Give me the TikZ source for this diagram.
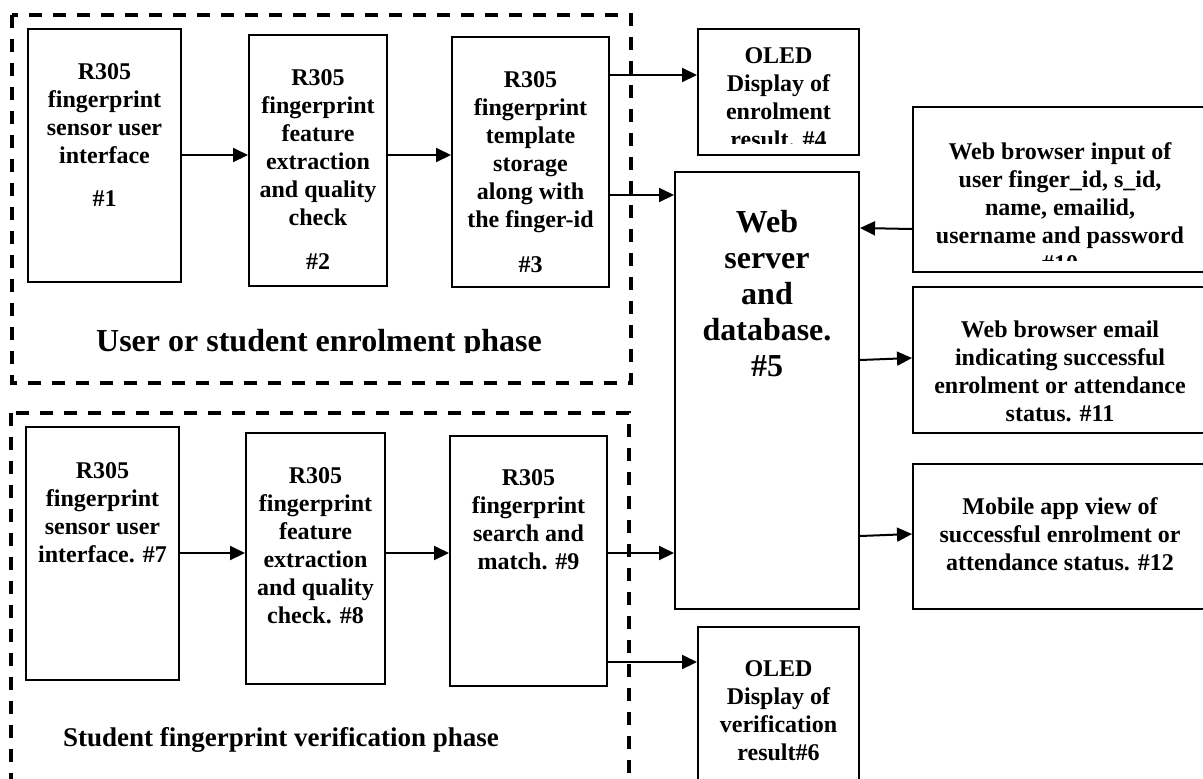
\documentclass[tikz,border=0pt]{standalone}
\usepackage{fontspec}
\setmainfont{Liberation Serif}
\usetikzlibrary{arrows.meta}

\begin{document}
\begin{tikzpicture}[x=0.5pt,y=-0.5pt]
  \tikzstyle{box}=[draw,line width=1pt,inner sep=0pt];
  \tikzstyle{txt}=[align=center,inner sep=0pt,anchor=north,font=\bfseries\fontsize{12}{14}\selectfont];
  \tikzstyle{arr}=[line width=1pt,-{Triangle[length=7.5pt,width=7pt]}];
  \tikzstyle{phase}=[line width=1.6pt,dash pattern=on 6.5pt off 5.5pt];

  \useasboundingbox (0,0) rectangle (1203,778);

  % phase frames
  \draw[phase] (12,15) rectangle (631,383);
  \draw[phase] (11,413) rectangle (629,800);

  % enrolment boxes
  \node[box,minimum width=76.5pt,minimum height=126.5pt] (b1) at (104.5,155.5) {};
  \node[box,minimum width=69pt,minimum height=125.5pt] (b2) at (318,160.5) {};
  \node[box,minimum width=78.5pt,minimum height=125pt] (b3) at (530.5,162) {};
  \node[box,minimum width=80.5pt,minimum height=63pt] (b4) at (778.5,92) {};

  % server and web side
  \node[box,minimum width=92pt,minimum height=218.5pt] (b5) at (767,390.5) {};
  \node[box,minimum width=147pt,minimum height=82.5pt] (b10) at (1060,189.5) {};
  \node[box,minimum width=147pt,minimum height=73pt] (b11) at (1060,360) {};
  \node[box,minimum width=147pt,minimum height=72.5pt] (b12) at (1060,536.5) {};

  % verification boxes
  \node[box,minimum width=76.5pt,minimum height=126.5pt] (b7) at (102.5,553.5) {};
  \node[box,minimum width=69.5pt,minimum height=125.5pt] (b8) at (315.5,558.5) {};
  \node[box,minimum width=78.5pt,minimum height=125pt] (b9) at (528.5,561) {};
  \node[box,minimum width=80.5pt,minimum height=86.5pt] (b6) at (778.5,713.5) {};

  % texts
  \node[txt] (t1) at (104.5,63) {R305\\fingerprint\\sensor user\\interface\\[7.5pt]\#1};
  \node[txt] (t2) at (318,69) {R305\\fingerprint\\feature\\extraction\\and quality\\check\\[8pt]\#2};
  \node[txt] (t3) at (530.5,71) {R305\\fingerprint\\template\\storage\\along with\\the finger-id\\[8.5pt]\#3};
  \begin{scope}
    \clip (690,20) rectangle (870,143);
    \node[txt] (t4) at (778.5,47) {OLED\\Display of\\enrolment\\result. \#4};
  \end{scope}
  \node[txt,font=\bfseries\fontsize{16}{18}\selectfont] (t5) at (767,209.5) {Web\\server\\and\\database.\\\#5};
  \node[txt] (t6) at (778.5,660) {OLED\\Display of\\verification\\result\#6};
  \node[txt] (t7) at (102.5,462) {R305\\fingerprint\\sensor user\\interface. \#7};
  \node[txt] (t8) at (315.5,467) {R305\\fingerprint\\feature\\extraction\\and quality\\check. \#8};
  \node[txt] (t9) at (528.5,469) {R305\\fingerprint\\search and\\match. \#9};
  \begin{scope}
    \clip (905,100) rectangle (1210,260);
    \node[txt] (t10) at (1060,142) {Web browser input of\\user finger\_id, s\_id,\\name, emailid,\\username and password\\\#10};
  \end{scope}
  \node[txt] (t11) at (1060,320) {Web browser email\\indicating successful\\enrolment or attendance\\status. \#11};
  \node[txt] (t12) at (1060,497) {Mobile app view of\\successful enrolment or\\attendance status. \#12};

  % phase titles
  \begin{scope}
    \clip (0,0) rectangle (640,352);
    \node[inner sep=0pt,anchor=base,font=\bfseries\fontsize{16}{18}\selectfont] (p1) at (319,351) {User or student enrolment phase};
  \end{scope}
  \node[inner sep=0pt,anchor=base,font=\bfseries\fontsize{13.5}{16}\selectfont] (p2) at (281,746) {Student fingerprint verification phase};

  % connectors
  \draw[arr] (b1.east |- 0,155) -- (b2.west |- 0,155);
  \draw[arr] (b2.east |- 0,155) -- (b3.west |- 0,155);
  \draw[arr] (b3.east |- 0,75) -- (b4.west |- 0,75);
  \draw[arr] (b3.east |- 0,195) -- (b5.west |- 0,195);
  \draw[arr] (b10.west |- 0,229) -- (b5.east |- 0,228);
  \draw[arr] (b5.east |- 0,360) -- (b11.west |- 0,358);
  \draw[arr] (b5.east |- 0,536) -- (b12.west |- 0,534);
  \draw[arr] (b7.east |- 0,553) -- (b8.west |- 0,553);
  \draw[arr] (b8.east |- 0,553) -- (b9.west |- 0,553);
  \draw[arr] (b9.east |- 0,553) -- (b5.west |- 0,553);
  \draw[arr] (b9.east |- 0,662) -- (b6.west |- 0,662);
\end{tikzpicture}
\end{document}
